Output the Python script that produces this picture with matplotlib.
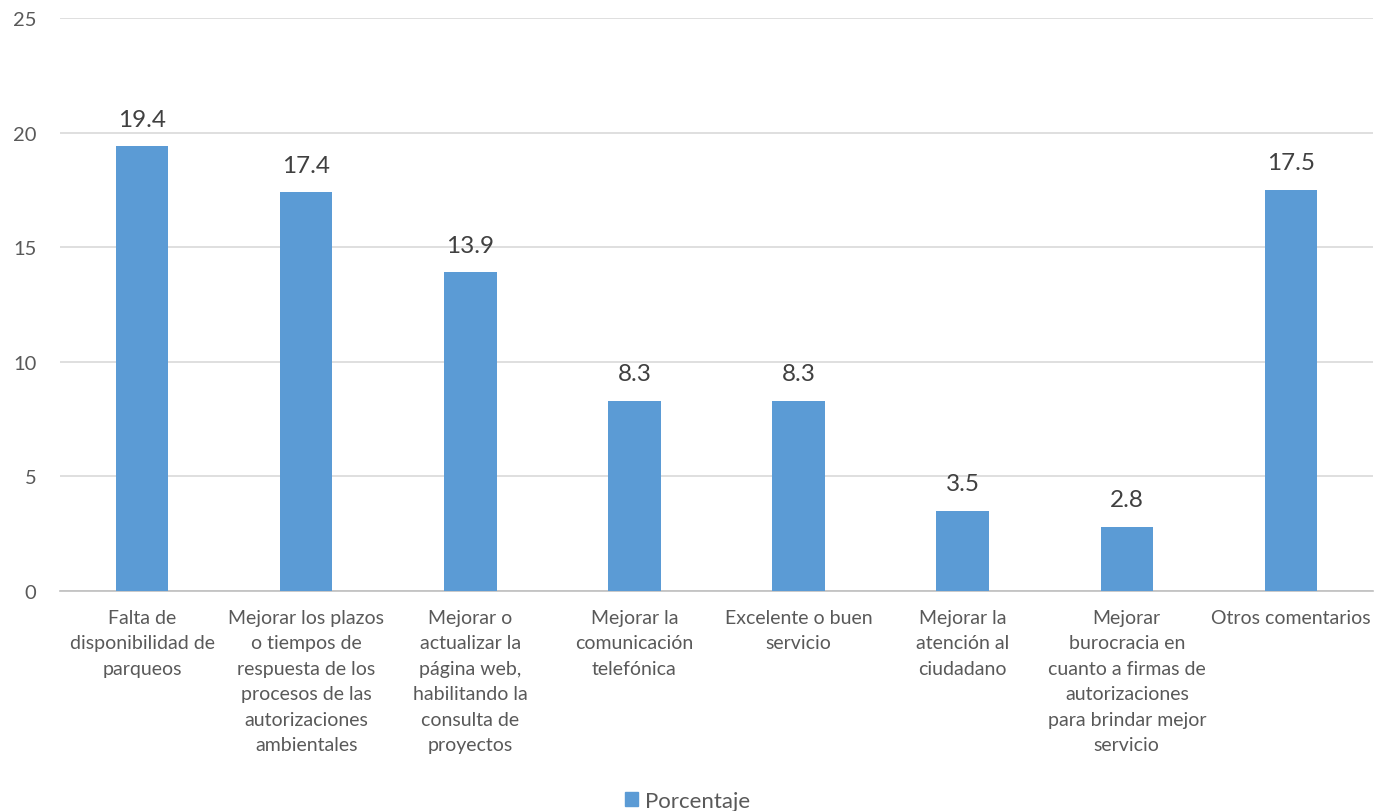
import matplotlib
matplotlib.use("Agg")
import matplotlib.pyplot as plt
from matplotlib.patches import Patch

categories = [
    "Falta de\ndisponibilidad de\nparqueos",
    "Mejorar los plazos\no tiempos de\nrespuesta de los\nprocesos de las\nautorizaciones\nambientales",
    "Mejorar o\nactualizar la\npágina web,\nhabilitando la\nconsulta de\nproyectos",
    "Mejorar la\ncomunicación\ntelefónica",
    "Excelente o buen\nservicio",
    "Mejorar la\natención al\nciudadano",
    "Mejorar\nburocracia en\ncuanto a firmas de\nautorizaciones\npara brindar mejor\nservicio",
    "Otros comentarios",
]
values = [19.4, 17.4, 13.9, 8.3, 8.3, 3.5, 2.8, 17.5]
yticks = [0, 5, 10, 15, 20, 25]
series_name = "Porcentaje"

plt.rcParams['font.family'] = ['Lato', 'DejaVu Sans']
bar_color = "#5B9BD5"
text_color = "#595959"

fig = plt.figure(figsize=(13.75, 8.12), dpi=100)
ax = fig.add_axes([60/1375, 220/812, 1313/1375, 573/812])
x = list(range(len(categories)))
ax.bar(x, values, width=0.32, color=bar_color, zorder=3)
for xi, v in zip(x, values):
    ax.annotate(f"{v:.1f}", (xi, v), xytext=(0, 12), textcoords="offset points",
                ha="center", va="bottom", fontsize=17.5, color="#404040")
ax.set_xlim(-0.5, 7.5)
ax.set_ylim(0, 25)
ax.set_yticks(yticks)
ax.set_yticklabels([str(t) for t in yticks], fontsize=14.5, color=text_color)
ax.set_xticks(x)
ax.set_xticklabels(categories, fontsize=14, color=text_color, linespacing=1.6)
ax.tick_params(axis='both', length=0)
ax.tick_params(axis='x', pad=13)
ax.tick_params(axis='y', pad=17)
ax.grid(axis='y', color="#D9D9D9", linewidth=1.2, zorder=0)
for s in ['top', 'right', 'left']:
    ax.spines[s].set_visible(False)
ax.spines['bottom'].set_color("#BFBFBF")
ax.spines['bottom'].set_linewidth(1.2)

handle = Patch(color=bar_color, label=series_name)
fig.legend(handles=[handle], loc="center", bbox_to_anchor=(0.5, 10/812), frameon=False,
           fontsize=16, handlelength=0.6, handleheight=0.6, handletextpad=0.3,
           labelcolor=text_color)
fig.savefig("out.png", dpi=100)
